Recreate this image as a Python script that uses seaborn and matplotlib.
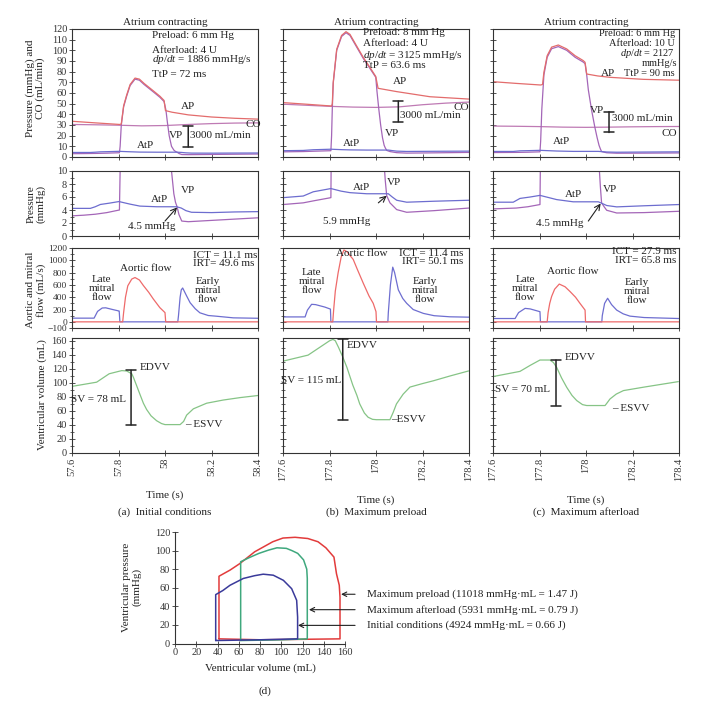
import numpy as np
import matplotlib
matplotlib.use("Agg")
import matplotlib.pyplot as plt
import seaborn as sns

sns.set_style("ticks")
plt.rcParams['font.family'] = ['Liberation Serif', 'DejaVu Serif']
plt.rcParams['mathtext.fontset'] = 'custom'
plt.rcParams['mathtext.rm'] = 'Liberation Serif'
plt.rcParams['mathtext.it'] = 'Liberation Serif:italic'

# ---- data (time in s from the start of each window) ----
t_start = [57.6, 177.6, 177.6]
time_ticks = [0.0, 0.2, 0.4, 0.6, 0.8]
time_labels = [["57.6", "57.8", "58", "58.2", "58.4"],
               ["177.6", "177.8", "178", "178.2", "178.4"],
               ["177.6", "177.8", "178", "178.2", "178.4"]]
captions = ["(a)  Initial conditions", "(b)  Maximum preload", "(c)  Maximum afterload"]

# (a) initial conditions
ap_t_a = [0, 0.1, 0.206, 0.212, 0.222, 0.235, 0.25, 0.271, 0.29, 0.31, 0.35, 0.378, 0.396, 0.402, 0.43, 0.5, 0.6, 0.7, 0.8]
ap_a = [33.5, 32, 30.5, 31, 48, 58, 68, 74, 73, 69, 62, 57, 53, 43.5, 42, 39.5, 37.5, 36.3, 35.5]
vp_t_a = [0, 0.05, 0.1, 0.15, 0.19, 0.204, 0.207, 0.212, 0.222, 0.235, 0.25, 0.271, 0.29, 0.31, 0.35, 0.378, 0.396,
          0.404, 0.41, 0.418, 0.428, 0.438, 0.445, 0.452, 0.46, 0.472, 0.5, 0.6, 0.7, 0.8]
vp_a = [3.1, 3.2, 3.35, 3.6, 3.9, 4.0, 10, 30, 47, 57, 67, 73, 72, 68, 61, 56, 52,
        44, 33, 20, 10, 6.5, 5.2, 4.5, 3.3, 2.3, 2.2, 2.4, 2.6, 2.8]
co_t_a = [0, 0.1, 0.2, 0.3, 0.4, 0.5, 0.6, 0.7, 0.8]
co_a = [30.5, 30.2, 29.8, 29.2, 29.5, 30.5, 31.3, 31.8, 32]
atp_t_a = [0, 0.079, 0.1, 0.122, 0.16, 0.202, 0.25, 0.292, 0.364, 0.45, 0.47, 0.49, 0.514, 0.6, 0.7, 0.8]
atp_a = [4.25, 4.25, 4.5, 4.85, 5.05, 5.3, 4.9, 4.6, 4.5, 4.5, 4.3, 3.9, 3.65, 3.6, 3.7, 3.75]
mit_t_a = [0, 0.095, 0.11, 0.13, 0.145, 0.175, 0.2, 0.203, 0.206, 0.455, 0.458, 0.465, 0.47, 0.476, 0.493,
           0.508, 0.53, 0.55, 0.586, 0.62, 0.694, 0.8]
mit_a = [60, 60, 170, 225, 228, 200, 178, 175, 0, 0, 100, 400, 520, 550, 421, 311, 213, 147, 103, 92, 65, 58]
aor_t_a = [0, 0.218, 0.222, 0.23, 0.24, 0.257, 0.271, 0.29, 0.307, 0.33, 0.35, 0.378, 0.4, 0.403, 0.8]
aor_a = [0, 0, 150, 400, 586, 695, 720, 680, 590, 480, 370, 230, 150, 0, 0]
vol_t_a = [0, 0.106, 0.16, 0.214, 0.235, 0.257, 0.264, 0.278, 0.293, 0.307, 0.321, 0.34, 0.364, 0.385, 0.4,
           0.465, 0.48, 0.493, 0.522, 0.579, 0.65, 0.723, 0.8]
vol_a = [95, 101, 113, 117.5, 117, 113, 108, 96, 83, 71, 62, 53, 46, 42, 40.5,
         40.5, 45, 54, 63, 71, 75.5, 79, 82]

# (b) maximum preload
ap_t_b = [0, 0.1, 0.209, 0.212, 0.216, 0.231, 0.252, 0.271, 0.288, 0.317, 0.345, 0.374, 0.399, 0.409, 0.489, 0.632, 0.8]
ap_b = [51, 49.5, 47.8, 50, 70, 101, 114, 117.5, 115, 104, 93.5, 84, 75.5, 64.4, 61.3, 56.5, 54.3]
vp_t_b = [0, 0.087, 0.13, 0.206, 0.209, 0.212, 0.216, 0.231, 0.252, 0.271, 0.288, 0.317, 0.345, 0.374, 0.399,
          0.404, 0.412, 0.42, 0.428, 0.435, 0.44, 0.446, 0.46, 0.489, 0.532, 0.65, 0.8]
vp_b = [4.84, 5.1, 5.4, 5.9, 20, 45, 69, 100, 113, 116.5, 114, 103, 92.5, 83, 74.7,
        62, 45, 30, 18, 11, 8.5, 6.2, 5.1, 4.06, 3.65, 3.9, 4.3]
co_t_b = [0, 0.1, 0.2, 0.3, 0.4, 0.5, 0.6, 0.7, 0.8]
co_b = [49.5, 48.5, 47.5, 46.8, 46.5, 47, 49, 50.5, 51.5]
atp_t_b = [0, 0.087, 0.13, 0.206, 0.25, 0.288, 0.36, 0.453, 0.47, 0.489, 0.532, 0.65, 0.8]
atp_b = [5.9, 6.15, 6.8, 7.3, 6.9, 6.67, 6.5, 6.5, 6.0, 5.5, 5.2, 5.35, 5.5]
mit_t_b = [0, 0.095, 0.105, 0.123, 0.14, 0.18, 0.204, 0.206, 0.451, 0.453, 0.462, 0.472, 0.48, 0.496, 0.515,
           0.532, 0.56, 0.604, 0.65, 0.718, 0.8]
mit_b = [80, 80, 190, 285, 280, 240, 207, 0, 0, 150, 600, 889, 800, 520, 380, 301, 200, 137, 100, 82, 76]
aor_t_b = [0, 0.214, 0.218, 0.225, 0.237, 0.25, 0.262, 0.275, 0.302, 0.32, 0.345, 0.37, 0.388, 0.4, 0.402, 0.8]
aor_b = [0, 0, 200, 500, 795, 1050, 1168, 1140, 1014, 850, 630, 420, 301, 165, 0, 0]
vol_t_b = [0, 0.108, 0.173, 0.2, 0.215, 0.225, 0.239, 0.257, 0.275, 0.3, 0.318, 0.33, 0.35, 0.366, 0.385, 0.402,
           0.46, 0.474, 0.488, 0.517, 0.546, 0.6, 0.647, 0.72, 0.798]
vol_b = [131, 139.6, 154, 160, 162, 160, 150.5, 137, 122, 97, 82, 70, 57, 51, 48, 47.5,
         47.5, 58, 70, 84, 94, 99, 103, 110, 117]

# (c) maximum afterload
ap_t_c = [0, 0.1, 0.205, 0.213, 0.219, 0.233, 0.252, 0.281, 0.317, 0.353, 0.388, 0.396, 0.403, 0.45, 0.503, 0.647, 0.8]
ap_c = [70.6, 69, 67.5, 68, 79.5, 95, 103, 105, 101.3, 95, 90.4, 88.8, 77.8, 76, 74.7, 72.8, 72]
vp_t_c = [0, 0.1, 0.15, 0.202, 0.205, 0.21, 0.219, 0.233, 0.252, 0.281, 0.317, 0.353, 0.388, 0.396,
          0.403, 0.41, 0.424, 0.438, 0.448, 0.456, 0.462, 0.467, 0.478, 0.489, 0.532, 0.65, 0.8]
vp_c = [4.17, 4.3, 4.5, 4.84, 15, 45, 77, 93.5, 101.5, 103.5, 100, 93.5, 89, 87.5,
        77, 63, 44, 28, 18, 11, 7.5, 5.1, 4.5, 3.96, 3.54, 3.6, 3.8]
co_t_c = [0, 0.1, 0.2, 0.3, 0.4, 0.5, 0.6, 0.7, 0.8]
co_c = [29, 28.8, 28.5, 28.0, 27.8, 28.0, 28.3, 28.5, 28.6]
atp_t_c = [0, 0.087, 0.116, 0.16, 0.202, 0.274, 0.345, 0.453, 0.47, 0.489, 0.532, 0.65, 0.8]
atp_c = [5.2, 5.2, 5.78, 6.0, 6.25, 5.6, 5.26, 5.26, 5.0, 4.69, 4.48, 4.65, 4.84]
mit_t_c = [0, 0.095, 0.11, 0.138, 0.16, 0.202, 0.204, 0.468, 0.47, 0.48, 0.493, 0.51, 0.532, 0.56, 0.589, 0.65, 0.8]
mit_c = [54, 54, 150, 219, 210, 165, 0, 0, 100, 300, 383, 280, 191, 130, 93, 70, 54]
aor_t_c = [0, 0.233, 0.237, 0.244, 0.252, 0.265, 0.285, 0.31, 0.331, 0.355, 0.374, 0.396, 0.398, 0.8]
aor_c = [0, 0, 150, 300, 411, 530, 614, 570, 494, 400, 301, 191, 0, 0]
vol_t_c = [0, 0.116, 0.16, 0.202, 0.245, 0.26, 0.274, 0.295, 0.317, 0.34, 0.36, 0.385, 0.403,
           0.482, 0.492, 0.503, 0.53, 0.561, 0.65, 0.797]
vol_c = [109, 116.4, 125, 132.6, 132.6, 129, 122, 107, 93.7, 82, 74.8, 69, 67.7,
         67.7, 72, 77, 84, 89, 94, 101.8]

# end-diastolic / end-systolic volumes for the SV bars
edvv = [118, 163, 132.6]
esvv = [40, 47.5, 67.7]
sv_bar_t = [0.254, 0.257, 0.271]

# pressure-volume loops (d)
pv_red_v = [41.4, 41.4, 51.8, 61, 75, 92, 101.6, 113, 125, 134.6, 142, 149.6, 152, 154.6, 155.3, 155.3, 120, 80, 41.4]
pv_red_p = [5, 72.4, 79, 86, 98.7, 109.5, 113.5, 114.3, 113, 109.5, 103, 93, 75, 62.7, 50, 5, 4.5, 4, 5]
pv_green_v = [61.8, 61.8, 70, 79, 88, 96, 104.8, 110, 115.5, 121, 124, 124.5, 124.5, 100, 61.8]
pv_green_p = [3.2, 88, 92.5, 97, 100.5, 103, 102.4, 100, 97, 90, 80, 70, 5, 4, 3.2]
pv_blue_v = [38.3, 38.3, 45, 51.8, 64.3, 75, 83, 92.5, 102, 109.8, 114.5, 115.4, 115.4, 80, 38.3]
pv_blue_p = [3.2, 52.6, 57, 62.7, 70, 73, 74.6, 73.5, 68, 59, 46.5, 28.4, 5, 4, 3.2]
pv_labels = ["Maximum preload (11018 mmHg\u00b7mL = 1.47 J)",
             "Maximum afterload (5931 mmHg\u00b7mL = 0.79 J)",
             "Initial conditions (4924 mmHg\u00b7mL = 0.66 J)"]

ap_col, vp_col, co_col, atp_col = "#e36c6c", "#a466b8", "#bf7ab4", "#6d6dcf"
aor_col, mit_col, vol_col = "#ee6a6a", "#6e6ed0", "#86c486"
ink = "#222222"

cols = [
    dict(ap=(ap_t_a, ap_a), vp=(vp_t_a, vp_a), co=(co_t_a, co_a), atp=(atp_t_a, atp_a),
         mit=(mit_t_a, mit_a), aor=(aor_t_a, aor_a), vol=(vol_t_a, vol_a)),
    dict(ap=(ap_t_b, ap_b), vp=(vp_t_b, vp_b), co=(co_t_b, co_b), atp=(atp_t_b, atp_b),
         mit=(mit_t_b, mit_b), aor=(aor_t_b, aor_b), vol=(vol_t_b, vol_b)),
    dict(ap=(ap_t_c, ap_c), vp=(vp_t_c, vp_c), co=(co_t_c, co_c), atp=(atp_t_c, atp_c),
         mit=(mit_t_c, mit_c), aor=(aor_t_c, aor_c), vol=(vol_t_c, vol_c)),
]

W, H = 709, 706
fig = plt.figure(figsize=(W / 100, H / 100), dpi=100)


def rect(l, t, r, b):
    return [l / W, 1 - b / H, (r - l) / W, (b - t) / H]


def line(ax, series, start, color, lw=0.9):
    t, y = series
    sns.lineplot(x=np.asarray(t) + start, y=y, ax=ax, color=color, lw=lw,
                 estimator=None, sort=False)


def style(ax, start, yticks, ylim, minor=None, ylabels=True, xlabels=False, col=0, ysize=7.5):
    ax.set_xlim(start, start + 0.8)
    ax.set_ylim(*ylim)
    ax.set_xticks([start + v for v in time_ticks])
    ax.set_yticks(yticks)
    if minor is not None:
        ax.set_yticks(minor, minor=True)
    if xlabels:
        ax.set_xticklabels(time_labels[col], rotation=90)
    else:
        ax.set_xticklabels([])
    if not ylabels:
        ax.set_yticklabels([])
    for s in ax.spines.values():
        s.set_color("#333333")
        s.set_linewidth(0.8)
    ax.tick_params(direction="inout", length=4, width=0.6, labelsize=7.5, pad=1.5, colors="#333333")
    ax.tick_params(axis="y", labelsize=ysize)
    ax.tick_params(which="minor", direction="inout", length=2.5, width=0.5)
    ax.set_xlabel("")
    ax.set_ylabel("")


def txt(ax, start, t, v, s, ha="center", va="center", size=8, **kw):
    ax.text(start + t, v, s, ha=ha, va=va, fontsize=size, color=ink, **kw)


def vbar(ax, x, y0, y1):
    ax.annotate("", xy=(x, y0), xytext=(x, y1),
                arrowprops=dict(arrowstyle="|-|,widthA=0.35,widthB=0.35", color=ink, lw=1.1,
                                shrinkA=0, shrinkB=0))


def arrow(ax, x0, y0, x1, y1):
    ax.annotate("", xy=(x1, y1), xytext=(x0, y0),
                arrowprops=dict(arrowstyle="->", color=ink, lw=0.8, shrinkA=0, shrinkB=0))


col_px = [(72, 258), (283, 469), (493, 679)]
row_px = [(29, 157), (171, 236), (248, 328), (338, 453)]

top_labels = [
    [("AP", 0.5, 47), ("VP", 0.449, 19.7), ("AtP", 0.318, 11), ("CO", 0.778, 30.5)],
    [("AP", 0.503, 70.6), ("VP", 0.469, 22.5), ("AtP", 0.295, 12.8), ("CO", 0.766, 46.6)],
    [("AP", 0.496, 78.5), ("VP", 0.449, 44), ("AtP", 0.295, 14.4), ("CO", 0.76, 22.2)],
]
scale_bars = [(0.5, 9.4, 29, 0.507, 19.7), (0.496, 33, 52.5, 0.503, 39), (0.499, 23, 42.5, 0.51, 36.3)]
param_text = [
    [(0.344, 114, "Preload: 6 mm Hg"), (0.344, 100.3, "Afterload: 4 U"),
     (0.344, 91, r"$dp/dt$ = 1886 mmHg/s"), (0.344, 77, "TtP = 72 ms")],
    [(0.345, 117, "Preload: 8 mm Hg"), (0.345, 106, "Afterload: 4 U"),
     (0.345, 95.6, r"$dp/dt$ = 3125 mmHg/s"), (0.345, 86, "TtP = 63.6 ms")],
]
pres_labels = [
    [(0.376, 5.6, "AtP"), (0.5, 7.0, "VP"), (0.344, 1.4, "4.5 mmHg")],
    [(0.338, 7.45, "AtP"), (0.477, 8.2, "VP"), (0.274, 2.2, "5.9 mmHg")],
    [(0.348, 6.4, "AtP"), (0.503, 7.2, "VP"), (0.288, 2.0, "4.5 mmHg")],
]
pres_arrows = [(0.4, 2.3, 0.452, 4.4), (0.41, 5.1, 0.446, 6.2), (0.41, 2.3, 0.463, 5.0)]
flow_labels = [
    [(0.128, 545, "Late\nmitral\nflow"), (0.316, 870, "Aortic flow"), (0.586, 517, "Early\nmitral\nflow")],
    [(0.123, 652, "Late\nmitral\nflow"), (0.34, 1110, "Aortic flow"), (0.611, 517, "Early\nmitral\nflow")],
    [(0.138, 545, "Late\nmitral\nflow"), (0.345, 815, "Aortic flow"), (0.618, 501, "Early\nmitral\nflow")],
]
ict_text = [("ICT = 11.1 ms", "IRT= 49.6 ms", 0.519, "left", 1086, 951),
            ("ICT = 11.4 ms", "IRT= 50.1 ms", 0.775, "right", 1110, 985),
            ("ICT = 27.9 ms", "IRT= 65.8 ms", 0.79, "right", 1140, 1000)]
vol_text = [
    [(0.29, 122, "EDVV", "left"), (0.232, 76, "SV = 78 mL", "right"), (0.486, 40.5, "\u2013 ESVV", "left")],
    [(0.274, 153, "EDVV", "left"), (0.25, 103, "SV = 115 mL", "right"), (0.466, 47.5, "\u2013ESVV", "left")],
    [(0.307, 136, "EDVV", "left"), (0.247, 90, "SV = 70 mL", "right"), (0.512, 64, "\u2013 ESVV", "left")],
]

for i, d in enumerate(cols):
    st = t_start[i]
    l, r = col_px[i]
    first = i == 0

    # --- pressure and CO ---
    ax = fig.add_axes(rect(l, row_px[0][0], r, row_px[0][1]))
    line(ax, d["co"], st, co_col)
    line(ax, d["vp"], st, vp_col)
    line(ax, d["ap"], st, ap_col)
    line(ax, d["atp"], st, atp_col)
    style(ax, st, list(range(0, 121, 10)), (0, 120), ylabels=first, col=i)
    ax.set_title("Atrium contracting", fontsize=8, pad=3, color=ink)
    for s, t, v in top_labels[i]:
        txt(ax, st, t, v, s)
    bx, b0, b1, tx, ty = scale_bars[i]
    vbar(ax, st + bx, b0, b1)
    txt(ax, st, tx, ty, "3000 mL/min", ha="left")
    if i < 2:
        for t, v, s in param_text[i]:
            txt(ax, st, t, v, s, ha="left")
    else:
        txt(ax, st, 0.783, 115.5, "Preload: 6 mm Hg", ha="right", size=7.5)
        txt(ax, st, 0.783, 106, "Afterload: 10 U", ha="right", size=7.5)
        txt(ax, st, 0.783, 97, r"$dp/dt$ = 2127", ha="right", size=7.5)
        txt(ax, st, 0.714, 88, "mmHg/s", size=7.5)
        txt(ax, st, 0.783, 78.5, "TtP = 90 ms", ha="right", size=7.5)

    # --- zoomed pressure ---
    ax = fig.add_axes(rect(l, row_px[1][0], r, row_px[1][1]))
    line(ax, d["vp"], st, vp_col)
    line(ax, d["atp"], st, atp_col)
    style(ax, st, [0, 2, 4, 6, 8, 10], (0, 10), minor=[1, 3, 5, 7, 9], ylabels=first, col=i)
    for t, v, s in pres_labels[i]:
        txt(ax, st, t, v, s)
    x0, y0, x1, y1 = pres_arrows[i]
    arrow(ax, st + x0, y0, st + x1, y1)

    # --- flows ---
    ax = fig.add_axes(rect(l, row_px[2][0], r, row_px[2][1]))
    line(ax, d["mit"], st, mit_col)
    line(ax, d["aor"], st, aor_col)
    style(ax, st, [-100, 0, 200, 400, 600, 800, 1000, 1200], (-100, 1200),
          minor=list(range(100, 1200, 200)), ylabels=first, col=i, ysize=6.8)
    for t, v, s in flow_labels[i]:
        txt(ax, st, t, v, s, linespacing=1.0)
    a_s, b_s, tx, ha, y_ict, y_irt = ict_text[i]
    txt(ax, st, tx, y_ict, a_s, ha=ha)
    txt(ax, st, tx, y_irt, b_s, ha=ha)

    # --- ventricular volume ---
    ax = fig.add_axes(rect(l, row_px[3][0], r, row_px[3][1]))
    line(ax, d["vol"], st, vol_col)
    style(ax, st, list(range(0, 161, 20)), (0, 164), minor=list(range(10, 160, 20)),
          ylabels=first, xlabels=True, col=i)
    vbar(ax, st + sv_bar_t[i], esvv[i], edvv[i])
    for t, v, s, ha in vol_text[i]:
        txt(ax, st, t, v, s, ha=ha)
    ax.set_xlabel("Time (s)", fontsize=8, color=ink, labelpad=10)
    cx = (l + r) / 2 / W
    fig.text(cx, 1 - 512 / H, captions[i], ha="center", va="center", fontsize=8, color=ink)

# y-axis titles of the left column
fig.text(35 / W, 1 - 88 / H, "Pressure (mmHg) and\nCO (mL/min)", rotation=90,
         ha="center", va="center", fontsize=8, color=ink, linespacing=1.1)
fig.text(36 / W, 1 - 204 / H, "Pressure\n(mmHg)", rotation=90,
         ha="center", va="center", fontsize=8, color=ink, linespacing=1.1)
fig.text(36 / W, 1 - 290 / H, "Aortic and mitral\nflow (mL/s)", rotation=90,
         ha="center", va="center", fontsize=8, color=ink, linespacing=1.1)
fig.text(42 / W, 1 - 395 / H, "Ventricular volume (mL)", rotation=90,
         ha="center", va="center", fontsize=8, color=ink)

# --- (d) pressure-volume loops ---
ax = fig.add_axes(rect(175, 532, 345, 643.5))
sns.lineplot(x=pv_red_v, y=pv_red_p, ax=ax, color="#e23b3b", lw=1.1, estimator=None, sort=False)
sns.lineplot(x=pv_green_v, y=pv_green_p, ax=ax, color="#3fa87d", lw=1.1, estimator=None, sort=False)
sns.lineplot(x=pv_blue_v, y=pv_blue_p, ax=ax, color="#3a3a9a", lw=1.1, estimator=None, sort=False)
ax.set_xlim(0, 160)
ax.set_ylim(0, 120)
ax.set_xticks(range(0, 161, 20))
ax.set_yticks(range(0, 121, 20))
sns.despine(ax=ax)
for s in ("left", "bottom"):
    ax.spines[s].set_color("#333333")
    ax.spines[s].set_linewidth(0.8)
ax.tick_params(direction="inout", length=4, width=0.6, labelsize=7.5, pad=1.5, colors="#333333")
ax.set_xlabel("Ventricular volume (mL)", fontsize=8, color=ink, labelpad=4)
ax.set_ylabel("")
fig.text(132 / W, 1 - 587 / H, "Ventricular pressure\n(mmHg)", rotation=90,
         ha="center", va="center", fontsize=8, color=ink, linespacing=1.1)
for (hx, hy), label in zip([(156.3, 53), (126.1, 36.4), (115.8, 19.5)], pv_labels):
    ax.annotate(label, xy=(hx, hy), xytext=(180.4, hy), textcoords="data",
                ha="left", va="center", fontsize=8, color=ink, annotation_clip=False,
                arrowprops=dict(arrowstyle="->", color=ink, lw=0.8, shrinkA=6, shrinkB=0))
fig.text(265 / W, 1 - 691 / H, "(d)", ha="center", va="center", fontsize=8, color=ink)

fig.savefig("out.png", dpi=100, facecolor="white")
